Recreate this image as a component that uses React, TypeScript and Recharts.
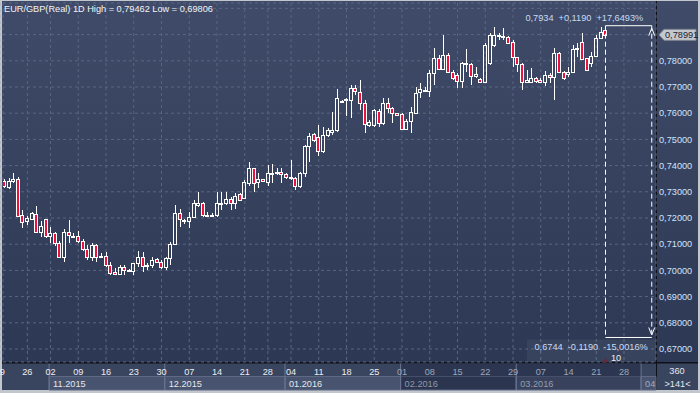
import React from 'react';
import { ComposedChart, Bar, XAxis, YAxis, CartesianGrid, ReferenceLine, ReferenceArea } from 'recharts';

// ---------- data (EUR/GBP daily candles, slot index = position in series) ----------
const opens = [
  0.7335, 0.7342, 0.7320, 0.7342, 0.7350, 0.7211, 0.7190, 0.7195, 0.7215, 0.7148,
  0.7195, 0.7131, 0.7142, 0.7106, 0.7052, 0.7145, 0.7132, 0.7132, 0.7112, 0.7082,
  0.7052, 0.7096, 0.7054, 0.7056, 0.7020, 0.6995, 0.6986, 0.7014, 0.7001, 0.6999,
  0.7027, 0.7052, 0.7017, 0.7021, 0.7042, 0.7033, 0.7014, 0.7046, 0.7100, 0.7220,
  0.7192, 0.7190, 0.7203, 0.7250, 0.7258, 0.7211, 0.7212, 0.7211, 0.7252, 0.7258,
  0.7271, 0.7256, 0.7290, 0.7275, 0.7335, 0.7390, 0.7339, 0.7348, 0.7339, 0.7371,
  0.7374, 0.7377, 0.7367, 0.7354, 0.7352, 0.7323, 0.7373, 0.7475, 0.7521, 0.7510,
  0.7457, 0.7517, 0.7529, 0.7536, 0.7648, 0.7650, 0.7650, 0.7695, 0.7682, 0.7640,
  0.7555, 0.7555, 0.7610, 0.7561, 0.7640, 0.7619, 0.7600, 0.7596, 0.7539, 0.7570,
  0.7602, 0.7682, 0.7689, 0.7686, 0.7752, 0.7810, 0.7768, 0.7822, 0.7758, 0.7746,
  0.7724, 0.7793, 0.7787, 0.7742, 0.7729, 0.7718, 0.7790, 0.7860, 0.7898, 0.7893,
  0.7890, 0.7873, 0.7813, 0.7788, 0.7718, 0.7718, 0.7733, 0.7727, 0.7720, 0.7746,
  0.7737, 0.7829, 0.7758, 0.7750, 0.7756, 0.7846, 0.7873, 0.7810, 0.7790, 0.7817,
  0.7886, 0.7916,
];
const highs = [
  0.7352, 0.7349, 0.7352, 0.7371, 0.7355, 0.7230, 0.7208, 0.7224, 0.7246, 0.7189,
  0.7197, 0.7167, 0.7148, 0.7112, 0.7157, 0.7192, 0.7142, 0.7150, 0.7119, 0.7097,
  0.7103, 0.7101, 0.7065, 0.7071, 0.7033, 0.7008, 0.7020, 0.7019, 0.7005, 0.7029,
  0.7075, 0.7071, 0.7027, 0.7050, 0.7046, 0.7040, 0.7050, 0.7110, 0.7250, 0.7233,
  0.7195, 0.7224, 0.7269, 0.7298, 0.7262, 0.7224, 0.7218, 0.7300, 0.7300, 0.7300,
  0.7281, 0.7294, 0.7294, 0.7345, 0.7415, 0.7392, 0.7371, 0.7350, 0.7402, 0.7406,
  0.7390, 0.7390, 0.7373, 0.7421, 0.7358, 0.7377, 0.7479, 0.7523, 0.7526, 0.7555,
  0.7548, 0.7542, 0.7606, 0.7691, 0.7650, 0.7657, 0.7708, 0.7708, 0.7727, 0.7650,
  0.7574, 0.7615, 0.7615, 0.7657, 0.7657, 0.7625, 0.7601, 0.7602, 0.7577, 0.7625,
  0.7701, 0.7714, 0.7699, 0.7765, 0.7848, 0.7822, 0.7898, 0.7829, 0.7765, 0.7752,
  0.7797, 0.7844, 0.7793, 0.7777, 0.7733, 0.7867, 0.7905, 0.7930, 0.7905, 0.7924,
  0.7895, 0.7879, 0.7816, 0.7790, 0.7765, 0.7771, 0.7739, 0.7733, 0.7760, 0.7752,
  0.7848, 0.7835, 0.7762, 0.7777, 0.7860, 0.7867, 0.7907, 0.7812, 0.7834, 0.7898,
  0.7930, 0.7934,
];
const lows = [
  0.7318, 0.7316, 0.7310, 0.7335, 0.7205, 0.7163, 0.7173, 0.7192, 0.7142, 0.7129,
  0.7122, 0.7106, 0.7093, 0.7046, 0.7033, 0.7103, 0.7126, 0.7106, 0.7075, 0.7040,
  0.7036, 0.7033, 0.7048, 0.7014, 0.6981, 0.6982, 0.6981, 0.6983, 0.6996, 0.6983,
  0.7014, 0.6995, 0.7001, 0.7008, 0.7027, 0.7004, 0.7001, 0.7021, 0.7097, 0.7167,
  0.7177, 0.7161, 0.7199, 0.7243, 0.7205, 0.7205, 0.7204, 0.7205, 0.7231, 0.7250,
  0.7231, 0.7233, 0.7266, 0.7271, 0.7322, 0.7300, 0.7313, 0.7339, 0.7322, 0.7333,
  0.7364, 0.7333, 0.7350, 0.7345, 0.7307, 0.7313, 0.7358, 0.7415, 0.7491, 0.7437,
  0.7449, 0.7510, 0.7517, 0.7529, 0.7638, 0.7589, 0.7581, 0.7669, 0.7612, 0.7523,
  0.7548, 0.7548, 0.7546, 0.7555, 0.7600, 0.7561, 0.7588, 0.7536, 0.7536, 0.7523,
  0.7600, 0.7657, 0.7685, 0.7661, 0.7708, 0.7765, 0.7765, 0.7752, 0.7727, 0.7695,
  0.7695, 0.7758, 0.7708, 0.7733, 0.7714, 0.7714, 0.7784, 0.7854, 0.7879, 0.7879,
  0.7867, 0.7777, 0.7758, 0.7689, 0.7714, 0.7714, 0.7714, 0.7714, 0.7702, 0.7714,
  0.7650, 0.7752, 0.7727, 0.7739, 0.7752, 0.7816, 0.7803, 0.7762, 0.7777, 0.7813,
  0.7883, 0.7895,
];
const closes = [
  0.7342, 0.7322, 0.7342, 0.7348, 0.7208, 0.7186, 0.7199, 0.7218, 0.7148, 0.7169,
  0.7131, 0.7142, 0.7103, 0.7052, 0.7148, 0.7135, 0.7131, 0.7112, 0.7081, 0.7052,
  0.7096, 0.7052, 0.7056, 0.7021, 0.6991, 0.6986, 0.7014, 0.7002, 0.7002, 0.7027,
  0.7052, 0.7017, 0.7019, 0.7040, 0.7033, 0.7014, 0.7046, 0.7100, 0.7220, 0.7195,
  0.7187, 0.7203, 0.7256, 0.7258, 0.7211, 0.7213, 0.7210, 0.7256, 0.7258, 0.7271,
  0.7256, 0.7284, 0.7269, 0.7339, 0.7390, 0.7335, 0.7348, 0.7341, 0.7371, 0.7373,
  0.7375, 0.7368, 0.7355, 0.7356, 0.7323, 0.7373, 0.7475, 0.7513, 0.7498, 0.7457,
  0.7517, 0.7536, 0.7536, 0.7657, 0.7642, 0.7653, 0.7695, 0.7685, 0.7640, 0.7558,
  0.7568, 0.7612, 0.7561, 0.7640, 0.7619, 0.7600, 0.7593, 0.7539, 0.7571, 0.7605,
  0.7678, 0.7691, 0.7688, 0.7752, 0.7810, 0.7768, 0.7822, 0.7758, 0.7733, 0.7724,
  0.7793, 0.7787, 0.7742, 0.7750, 0.7718, 0.7860, 0.7898, 0.7898, 0.7893, 0.7890,
  0.7869, 0.7816, 0.7788, 0.7718, 0.7727, 0.7733, 0.7723, 0.7718, 0.7746, 0.7737,
  0.7829, 0.7758, 0.7733, 0.7758, 0.7844, 0.7848, 0.7806, 0.7765, 0.7820, 0.7886,
  0.7911, 0.78991,
];

const dayTickSlots = [0, 6, 11, 17, 23, 29, 35, 41, 47, 53, 58, 63, 69, 75, 81, 87, 93, 99, 105, 111, 117, 123, 129, 135];
const dayTickLabels = ['19', '26', '02', '09', '16', '23', '30', '07', '14', '21', '28', '04', '11', '18', '25', '01', '08', '15', '22', '29', '07', '14', '21', '28'];
const monthStartSlots = [11, 36, 62, 87, 112, 139];
const monthLabels = ['11.2015', '12.2015', '01.2016', '02.2016', '03.2016', '04'];
const priceTicks = [0.67, 0.68, 0.69, 0.70, 0.71, 0.72, 0.73, 0.74, 0.75, 0.76, 0.77, 0.78, 0.79, 0.80];

const lastClose = 0.78991;
const measureFromSlot = 131;
const measureToSlot = 141;
const measureHigh = 0.7934;
const measureLow = 0.6744;
const measureTopText = '0,7934  +0,1190  +17,6493%';
const measureBottomText = '0,6744  -0,1190  -15,0016%';
const titleText = 'EUR/GBP(Real) 1D High = 0,79462 Low = 0,69806';
const panelTopText = '360';
const panelBottomText = '>141<';

// ---------- layout ----------
const W = 700;
const H = 393;
const FONT = '"Liberation Sans", Arial, Helvetica, sans-serif';
const FS = 9.2;
const PLOT_TOP = 3;
const PLOT_H = 359;
const X_DOMAIN: [number, number] = [0.7297, 141.92];
const Y_DOMAIN: [number, number] = [0.665038, 0.802061];
const priceAtPx = (p: number) => Y_DOMAIN[1] - ((p - PLOT_TOP) * (Y_DOMAIN[1] - Y_DOMAIN[0])) / PLOT_H;

const candles = opens.map((o, i) => ({ i, o, h: highs[i], l: lows[i], c: closes[i] }));
const fmtPrice = (v: number) => v.toFixed(5).replace('.', ',');

function Candle(props: any) {
  const { x, y, width, height, payload } = props;
  if (x == null || y == null || !payload) return <g />;
  const { o, h, l, c } = payload;
  const top = height >= 0 ? y : y + height;
  const hh = Math.abs(height);
  const span = h - l || 1e-9;
  const py = (v: number) => top + ((h - v) / span) * hh;
  const cx = Math.floor(x + width / 2) + 0.5;
  const bTop = Math.round(py(Math.max(o, c)));
  let bBot = Math.round(py(Math.min(o, c)));
  if (bBot - bTop < 1) bBot = bTop + 1;
  const wTop = Math.round(top);
  const wBot = Math.round(top + hh);
  const up = c >= o;
  return (
    <g>
      {bTop > wTop && <line x1={cx} x2={cx} y1={wTop} y2={bTop + 0.5} stroke="#ffffff" strokeWidth={1} />}
      {wBot > bBot && <line x1={cx} x2={cx} y1={bBot + 0.5} y2={wBot} stroke="#ffffff" strokeWidth={1} />}
      <rect x={cx - 2} y={bTop + 0.5} width={3} height={bBot - bTop} fill={up ? 'none' : '#ec1240'} stroke="#ffffff" strokeWidth={1} />
    </g>
  );
}

function XTick(props: any) {
  const { x, y, payload } = props;
  const idx = dayTickSlots.indexOf(payload.value);
  const label = idx >= 0 ? dayTickLabels[idx] : '';
  const dim = payload.value >= monthStartSlots[3];
  return (
    <text x={x} y={y + 13} textAnchor="middle" fill={dim ? '#9ea7b8' : '#eceff4'} fontSize={FS} fontFamily={FONT}>
      {label}
    </text>
  );
}

function YTick(props: any) {
  const { x, y, payload } = props;
  if (payload.value > 0.785) return <g />;
  return (
    <text x={x} y={y + 3.3} textAnchor="start" fill="#d2e3f8" fontSize={FS} fontFamily={FONT}>
      {fmtPrice(payload.value)}
    </text>
  );
}

function PriceTag(props: any) {
  const vb = props.viewBox || {};
  const xr = vb.x + vb.width;
  const y = vb.y;
  return (
    <g>
      <polygon
        points={`${xr + 3},${y} ${xr + 8},${y - 5.5} ${xr + 40},${y - 5.5} ${xr + 40},${y + 5.5} ${xr + 8},${y + 5.5}`}
        fill="#c4c8ce"
        stroke="#80868f"
        strokeWidth={1}
      />
      <text x={xr + 9} y={y + 3.3} fill="#18202e" fontSize={FS} fontFamily={FONT}>
        {fmtPrice(lastClose)}
      </text>
    </g>
  );
}

function TopMeasureLabel(props: any) {
  const vb = props.viewBox || {};
  const xr = vb.x + vb.width;
  const y = vb.y;
  return (
    <g>
      <text x={xr - 8.5} y={y - 5} textAnchor="end" fill="#c9dbf2" fontSize={FS} fontFamily={FONT} style={{ whiteSpace: 'pre' }}>
        {measureTopText}
      </text>
      <path d={`M${xr - 3},${y + 10} L${xr},${y + 2.5} L${xr + 3},${y + 10}`} stroke="#ffffff" fill="none" strokeWidth={1} />
    </g>
  );
}

function BottomMeasureLabel(props: any) {
  const vb = props.viewBox || {};
  const xl = vb.x;
  const xr = vb.x + vb.width;
  const y = vb.y;
  return (
    <g>
      <rect x={xl - 78.5} y={y + 2} width={xr - xl + 83} height={22.5} fill="#ffffff" fillOpacity={0.05} />
      <path d={`M${xr - 3},${y - 10} L${xr},${y - 2.5} L${xr + 3},${y - 10}`} stroke="#ffffff" fill="none" strokeWidth={1} />
      <text x={xr - 4} y={y + 13} textAnchor="end" fill="#c9dbf2" fontSize={FS} fontFamily={FONT} style={{ whiteSpace: 'pre' }}>
        {measureBottomText}
      </text>
      <text x={xl + 10.5} y={y + 24} textAnchor="middle" fill="#f0f2f6" fontSize={FS} fontFamily={FONT}>
        {String(measureToSlot - measureFromSlot)}
      </text>
      <polygon points={`${xl - 3.5},${y + 25} ${xl + 3.5},${y + 25} ${xl},${y + 20.5}`} fill="#5e2b40" />
    </g>
  );
}

const monthFills = ['#47536f', '#47536f', '#47536f', '#2b3550', '#38425c', '#47536f'];
const monthTextFills = ['#e4e8ee', '#e4e8ee', '#e4e8ee', '#8f98aa', '#959eb0', '#a2abbb'];

export default function App() {
  const rowTop = priceAtPx(363.5);
  const rowMid = priceAtPx(376.5);
  const rowBot = priceAtPx(390);
  return (
    <div style={{ position: 'absolute', left: 0, top: 0, width: W, height: H, fontFamily: FONT }}>
      <svg width={W} height={H} style={{ position: 'absolute', left: 0, top: 0 }}>
        <defs>
          <linearGradient id="plotBg" x1="0" y1="0" x2="0" y2="1">
            <stop offset="0" stopColor="#3f4b68" />
            <stop offset="1" stopColor="#2d3854" />
          </linearGradient>
        </defs>
        <rect x={0} y={0} width={W} height={H} fill="#c2c6cd" />
        <rect x={2} y={1} width={696} height={389} fill="#39445e" />
        <rect x={2} y={1} width={654} height={361} fill="url(#plotBg)" />
        <rect x={657} y={1} width={41} height={361} fill="url(#plotBg)" />
        <rect x={656} y={1} width={1} height={389} fill="#0d1119" />
        <rect x={2} y={362} width={696} height={1.5} fill="#0d1119" />
      </svg>
      <div style={{ position: 'absolute', left: 0, top: 0 }}>
        <ComposedChart width={W} height={H} data={candles} margin={{ top: PLOT_TOP, right: 0, bottom: 0, left: 3 }}>
          <CartesianGrid stroke="#5a6682" strokeDasharray="3 3" />
          {monthStartSlots.map((s, k) => (
            <ReferenceArea
              key={'mb' + k}
              x1={s - 0.3}
              x2={k + 1 < monthStartSlots.length ? monthStartSlots[k + 1] - 0.3 : X_DOMAIN[1]}
              y1={rowBot}
              y2={rowMid}
              ifOverflow="visible"
              fill={monthFills[k]}
              fillOpacity={1}
              stroke="#5e6985"
              strokeWidth={1}
              label={{ value: monthLabels[k], position: 'insideLeft', offset: 4, fill: monthTextFills[k], fontSize: FS, fontFamily: FONT }}
            />
          ))}
          <ReferenceArea
            x1={monthStartSlots[3] - 0.3}
            x2={monthStartSlots[5] - 0.3}
            y1={rowMid}
            y2={rowTop}
            ifOverflow="visible"
            fill="#2c3651"
            fillOpacity={1}
            stroke="none"
          />
          {monthStartSlots.map((s, k) => (
            <ReferenceLine
              key={'ms' + k}
              segment={[{ x: s - 0.3, y: rowTop }, { x: s - 0.3, y: rowBot }]}
              ifOverflow="visible"
              stroke="#6a7591"
              strokeWidth={1}
            />
          ))}
          <XAxis
            dataKey="i"
            type="number"
            domain={X_DOMAIN}
            allowDataOverflow
            ticks={dayTickSlots}
            interval={0}
            tick={<XTick />}
            tickLine={false}
            axisLine={false}
            tickSize={0}
            tickMargin={0}
            height={31}
          />
          <YAxis
            orientation="right"
            type="number"
            domain={Y_DOMAIN}
            allowDataOverflow
            ticks={priceTicks}
            interval={0}
            tick={<YTick />}
            tickLine={false}
            axisLine={false}
            tickSize={1}
            tickMargin={2}
            width={44}
          />
          <Bar dataKey={(d: any) => [d.l, d.h]} barSize={3} isAnimationActive={false} shape={(p: any) => <Candle {...p} />} />
          <ReferenceLine
            segment={[{ x: measureFromSlot, y: measureHigh }, { x: measureFromSlot, y: measureLow }]}
            stroke="#ffffff"
            strokeDasharray="5 3"
            ifOverflow="visible"
          />
          <ReferenceLine
            segment={[{ x: measureToSlot, y: measureHigh }, { x: measureToSlot, y: measureLow }]}
            stroke="#ffffff"
            strokeDasharray="5 3"
            ifOverflow="visible"
          />
          <ReferenceLine
            segment={[{ x: measureFromSlot, y: measureHigh }, { x: measureToSlot, y: measureHigh }]}
            stroke="#ffffff"
            ifOverflow="visible"
            label={(p: any) => <TopMeasureLabel {...p} />}
          />
          <ReferenceLine
            segment={[{ x: measureFromSlot, y: measureLow }, { x: measureToSlot, y: measureLow }]}
            stroke="#ffffff"
            ifOverflow="visible"
            label={(p: any) => <BottomMeasureLabel {...p} />}
          />
          <ReferenceLine y={lastClose} stroke="none" ifOverflow="visible" label={(p: any) => <PriceTag {...p} />} />
        </ComposedChart>
      </div>
      <svg width={W} height={H} style={{ position: 'absolute', left: 0, top: 0, pointerEvents: 'none' }}>
        <text x={4} y={11.5} fill="#f2f3f5" fontSize={FS} fontFamily={FONT}>
          {titleText}
        </text>
        <text x={677} y={374} textAnchor="middle" fill="#e3e8f0" fontSize={FS} fontFamily={FONT}>
          {panelTopText}
        </text>
        <text x={677.5} y={386.7} textAnchor="middle" fill="#e3e8f0" fontSize={FS} fontFamily={FONT}>
          {panelBottomText}
        </text>
      </svg>
    </div>
  );
}
